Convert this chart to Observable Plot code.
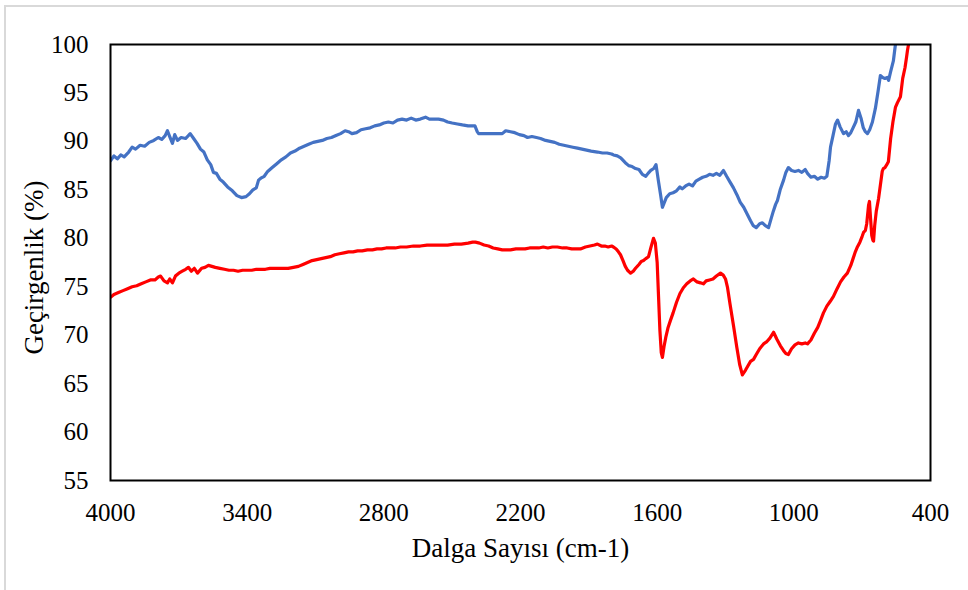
<!DOCTYPE html>
<html>
<head>
<meta charset="utf-8">
<script src="https://cdn.jsdelivr.net/npm/d3@7"></script>
<script src="https://cdn.jsdelivr.net/npm/@observablehq/plot@0.6"></script>
<style>
  html, body { margin: 0; padding: 0; background: #fff; }
  #wrap { position: relative; width: 968px; height: 590px; overflow: hidden; }
  #border { position: absolute; left: 4px; top: 5px; width: 990px; height: 600px;
            border-top: 2px solid #d9d9d9; border-left: 2px solid #d9d9d9; box-sizing: border-box; }
  #chart { position: absolute; left: 0; top: 0; }
  svg text { fill: #000; }
</style>
</head>
<body>
<div id="wrap"><div id="border"></div><div id="chart"></div></div>
<script>
const xTicks = [4000, 3400, 2800, 2200, 1600, 1000, 400];
const yTicks = [55, 60, 65, 70, 75, 80, 85, 90, 95, 100];
const xTitle = "Dalga Sayısı (cm-1)";
const yTitle = "Geçirgenlik (%)";

const blueWn = [4000,3985,3970,3955,3940,3920,3905,3890,3870,3850,3830,3810,3790,3775,3760,3750,3740,3728,3718,3706,3690,3670,3650,3635,3620,3605,3590,3575,3560,3548,3535,3520,3505,3486,3465,3445,3425,3405,3390,3375,3360,3350,3340,3325,3310,3290,3270,3250,3230,3210,3190,3170,3150,3130,3110,3090,3070,3050,3030,3010,2990,2970,2955,2940,2920,2900,2880,2860,2840,2820,2800,2780,2760,2740,2720,2700,2680,2660,2640,2617,2600,2580,2560,2538,2520,2500,2477,2455,2430,2400,2390,2384,2340,2300,2280,2265,2244,2225,2205,2185,2169,2150,2130,2112,2090,2070,2050,2030,2010,1990,1970,1950,1930,1910,1890,1862,1840,1820,1800,1792,1775,1760,1740,1725,1710,1695,1680,1665,1650,1640,1628,1615,1605,1595,1585,1577,1570,1560,1545,1530,1515,1500,1490,1475,1460,1445,1430,1415,1400,1385,1370,1355,1340,1325,1309,1295,1280,1265,1250,1235,1220,1205,1190,1178,1165,1150,1138,1125,1111,1100,1090,1080,1072,1060,1045,1035,1024,1010,995,980,965,950,940,925,910,895,880,866,855,845,839,828,817,808,797,782,770,760,750,740,728,716,705,695,686,677,667,655,642,630,620,610,600,590,584,575,563,554,540];
const blueT = [88.0,88.5,88.2,88.6,88.4,88.9,89.4,89.2,89.6,89.5,89.9,90.1,90.4,90.2,90.6,91.1,90.5,89.8,90.7,90.1,90.4,90.3,90.8,90.3,89.8,89.2,88.9,88.1,87.6,86.8,86.7,86.1,85.8,85.3,84.9,84.4,84.2,84.3,84.6,85.0,85.2,86.0,86.2,86.4,86.9,87.3,87.7,88.1,88.4,88.8,89.0,89.3,89.5,89.7,89.9,90.0,90.1,90.3,90.4,90.6,90.8,91.1,91.0,90.8,90.9,91.2,91.3,91.4,91.6,91.7,91.9,92.0,91.9,92.2,92.3,92.2,92.4,92.2,92.3,92.5,92.3,92.3,92.3,92.2,92.0,91.9,91.8,91.7,91.6,91.6,91.0,90.8,90.8,90.8,90.8,91.1,91.0,90.9,90.7,90.6,90.4,90.5,90.4,90.3,90.1,90.0,89.9,89.7,89.6,89.5,89.4,89.3,89.2,89.1,89.0,88.9,88.8,88.8,88.7,88.6,88.5,88.3,87.8,87.5,87.4,87.2,87.1,86.6,86.4,86.7,87.0,87.2,87.6,86.0,84.5,83.2,83.6,84.2,84.6,84.7,84.9,85.3,85.1,85.4,85.6,85.4,85.9,86.1,86.3,86.4,86.6,86.5,86.7,86.5,87.0,86.4,85.8,85.2,84.5,83.7,83.2,82.5,81.8,81.3,81.1,81.5,81.6,81.3,81.1,82.0,82.8,83.5,83.9,85.0,86.0,86.8,87.3,87.0,86.9,87.0,86.8,87.1,86.7,86.3,86.4,86.1,86.3,86.2,86.4,88.0,89.4,90.6,91.8,92.2,91.5,90.8,91.0,90.6,90.9,91.4,92.0,93.2,92.4,91.4,91.0,90.8,91.2,92.0,93.4,95.2,96.8,96.6,96.5,96.6,96.3,97.2,98.3,100.0,102.5];

const redWn = [4000,3985,3965,3945,3925,3905,3885,3865,3845,3825,3805,3790,3780,3765,3750,3740,3728,3715,3700,3685,3670,3658,3645,3632,3618,3600,3585,3570,3555,3540,3520,3500,3480,3460,3440,3420,3400,3380,3360,3340,3320,3300,3280,3260,3240,3220,3197,3175,3155,3135,3115,3095,3075,3055,3035,3015,2995,2975,2955,2935,2915,2895,2872,2850,2830,2810,2790,2770,2750,2727,2700,2670,2640,2610,2582,2550,2520,2490,2460,2430,2410,2398,2380,2360,2340,2320,2300,2280,2260,2244,2220,2200,2180,2160,2140,2120,2100,2080,2060,2038,2015,1995,1975,1955,1937,1915,1895,1875,1862,1845,1830,1815,1800,1792,1780,1770,1761,1750,1740,1730,1717,1705,1695,1680,1670,1660,1650,1638,1628,1616,1608,1600,1594,1588,1582,1577,1570,1562,1552,1542,1530,1515,1500,1485,1470,1455,1441,1425,1410,1397,1385,1370,1355,1340,1322,1310,1300,1291,1280,1265,1250,1238,1226,1212,1200,1190,1177,1165,1150,1133,1120,1105,1089,1075,1059,1045,1035,1024,1010,995,980,965,950,940,925,910,895,883,870,855,840,826,810,795,780,765,750,740,730,721,710,700,694,686,680,672,668,663,658,653,650,645,638,628,620,612,607,600,592,585,575,565,554,545,532,522,512,505,501,495,485];
const redT = [73.9,74.2,74.4,74.6,74.8,75.0,75.1,75.3,75.5,75.7,75.7,76.0,76.1,75.6,75.4,75.8,75.4,76.1,76.4,76.6,76.8,77.0,76.6,76.9,76.4,76.9,77.0,77.2,77.1,77.0,76.9,76.8,76.7,76.7,76.6,76.7,76.7,76.7,76.8,76.8,76.8,76.9,76.9,76.9,76.9,76.9,77.0,77.1,77.3,77.5,77.7,77.8,77.9,78.0,78.1,78.3,78.4,78.5,78.6,78.6,78.7,78.7,78.8,78.8,78.9,78.9,79.0,79.0,79.0,79.1,79.1,79.2,79.2,79.3,79.3,79.3,79.3,79.4,79.4,79.5,79.6,79.6,79.5,79.3,79.2,79.0,78.9,78.8,78.8,78.8,78.9,78.9,78.9,79.0,79.0,79.0,79.1,79.0,79.1,79.1,79.0,79.0,78.9,78.9,78.9,79.1,79.2,79.3,79.4,79.2,79.2,79.1,79.2,79.1,78.9,78.6,78.3,77.7,77.1,76.7,76.4,76.6,76.9,77.3,77.6,77.7,77.9,78.1,79.0,80.0,79.5,77.5,74.0,70.5,68.2,67.7,68.8,69.8,70.8,71.5,72.3,73.4,74.3,74.9,75.3,75.6,75.8,75.5,75.4,75.3,75.6,75.7,75.8,76.1,76.4,76.2,75.8,74.9,73.2,71.0,68.7,67.0,65.9,66.4,66.9,67.3,67.5,68.0,68.6,69.1,69.3,69.7,70.3,69.6,68.9,68.4,68.1,68.0,68.6,69.0,69.2,69.1,69.2,69.1,69.5,70.2,70.8,71.5,72.3,73.0,73.5,74.0,74.8,75.5,76.0,76.4,77.2,77.9,78.6,79.1,79.6,80.2,80.6,80.8,81.5,83.4,83.8,82.0,80.3,79.8,79.7,81.3,82.8,84.1,85.5,86.9,87.2,87.3,87.6,87.9,90.3,92.0,93.5,94.0,94.6,96.5,97.6,98.7,99.4,100.2,102.5];

const blue = blueWn.map((w, i) => ({wn: w, t: blueT[i]}));
const red = redWn.map((w, i) => ({wn: w, t: redT[i]}));

const font = "'Liberation Serif', 'Times New Roman', serif";

const chart = Plot.plot({
  width: 968,
  height: 590,
  marginLeft: 110,
  marginRight: 38,
  marginTop: 44,
  marginBottom: 110,
  style: {fontFamily: font, fontSize: "25px", background: "transparent", overflow: "visible"},
  x: {domain: [4000, 400], label: null},
  y: {domain: [55, 100], label: null},
  marks: [
    Plot.line(blue, {x: "wn", y: "t", stroke: "#4472C4", strokeWidth: 3.2, clip: true, strokeLinejoin: "round"}),
    Plot.line(red, {x: "wn", y: "t", stroke: "#FF0000", strokeWidth: 3.2, clip: true, strokeLinejoin: "round"}),
    Plot.frame({stroke: "#000", strokeWidth: 2}),
    Plot.axisX({ticks: xTicks, tickSize: 0, tickPadding: 23, fontSize: 25, label: null, tickFormat: d => String(d)}),
    Plot.axisY({ticks: yTicks, tickSize: 0, tickPadding: 22, fontSize: 25, label: null, tickFormat: d => String(d)}),
    Plot.text([xTitle], {text: d => d, frameAnchor: "bottom", textAnchor: "middle", dy: 68, fontSize: 27, lineAnchor: "middle"}),
    Plot.text([yTitle], {text: d => d, frameAnchor: "left", textAnchor: "middle", dx: -76, dy: 5, rotate: -90, fontSize: 27, lineAnchor: "middle"})
  ]
});
document.getElementById("chart").appendChild(chart);
</script>
</body>
</html>
